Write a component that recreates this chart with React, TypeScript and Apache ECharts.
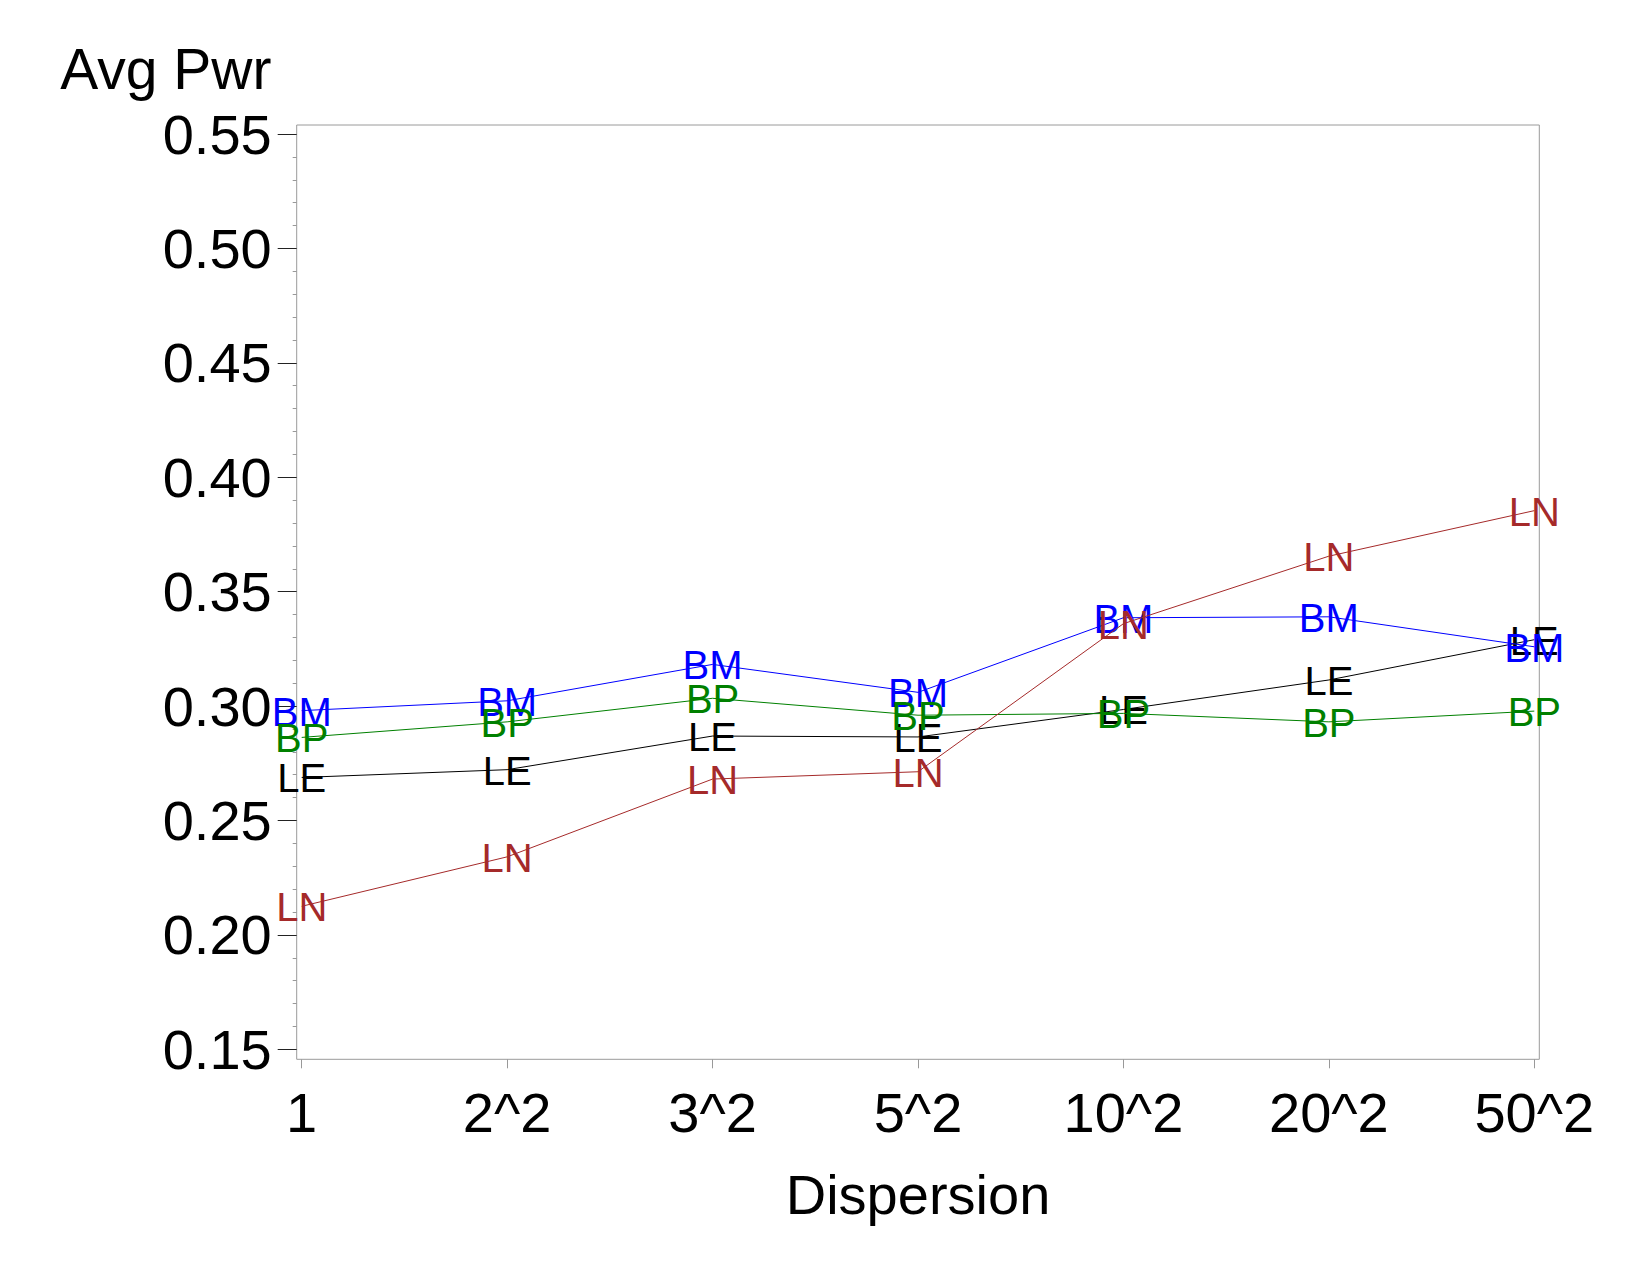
import { useEffect, useRef } from "react";
import * as echarts from "echarts";

// Dispersion levels along the horizontal axis
const dispersions = ["1", "2^2", "3^2", "5^2", "10^2", "20^2", "50^2"];

// Average power for each method at each dispersion level
const lePower = [0.2688, 0.2722, 0.2869, 0.2865, 0.2985, 0.3114, 0.329];
const bmPower = [0.298, 0.3023, 0.3182, 0.306, 0.3386, 0.339, 0.3259];
const bpPower = [0.2863, 0.2931, 0.3034, 0.296, 0.2968, 0.2931, 0.2978];
const lnPower = [0.2125, 0.2341, 0.2681, 0.2713, 0.336, 0.3655, 0.3854];

const methodNames = ["LE", "BM", "BP", "LN"];
const methodColors = ["#000000", "#0000ff", "#008000", "#a52a2a"];
const methodValues = [lePower, bmPower, bpPower, lnPower];

const FONT = "'Liberation Sans', Arial, Helvetica, sans-serif";

export default function App() {
  const ref = useRef<HTMLDivElement>(null);

  useEffect(() => {
    document.body.style.margin = "0";
    const chart = echarts.init(ref.current!, undefined, { renderer: "svg" });

    // Each method is a thin line whose points are marked by the method's name
    const series = methodNames.map((name, i) => ({
      name,
      type: "line",
      data: methodValues[i],
      symbol: "circle",
      symbolSize: 1,
      itemStyle: { color: "transparent" },
      lineStyle: { color: methodColors[i], width: 1 },
      label: {
        show: true,
        position: "inside",
        formatter: name,
        color: methodColors[i],
        fontSize: 40,
        fontFamily: FONT,
        offset: [0, 1],
      },
      emphasis: { disabled: true },
      z: 3 + i,
    }));

    chart.setOption({
      animation: false,
      backgroundColor: "#ffffff",
      textStyle: { fontFamily: FONT },
      grid: { left: 301.7, right: 115.7, top: 134, bottom: 225.7, containLabel: false },
      xAxis: {
        type: "category",
        data: dispersions,
        boundaryGap: false,
        offset: 10,
        axisLine: { show: false },
        axisTick: { show: true, length: 9, alignWithLabel: true, lineStyle: { color: "#999999", width: 1 } },
        axisLabel: { fontSize: 56, fontFamily: FONT, color: "#000000", margin: 25 },
        splitLine: { show: false },
        name: "Dispersion",
        nameLocation: "middle",
        nameGap: 107,
        nameTextStyle: { fontSize: 56, fontFamily: FONT, color: "#000000" },
      },
      yAxis: {
        type: "value",
        min: 0.15,
        max: 0.55,
        interval: 0.05,
        offset: 5,
        axisLine: { show: false },
        axisTick: { show: true, length: 19, lineStyle: { color: "#222222", width: 1 } },
        minorTick: { show: true, splitNumber: 5, length: 4, lineStyle: { color: "#999999", width: 1 } },
        minorSplitLine: { show: false },
        splitLine: { show: false },
        axisLabel: {
          fontSize: 56,
          fontFamily: FONT,
          color: "#000000",
          margin: 25,
          formatter: (v: number) => v.toFixed(2),
        },
      },
      graphic: [
        {
          type: "rect",
          z: 0,
          silent: true,
          shape: { x: 296.7, y: 125, width: 1242.6, height: 934.3 },
          style: { fill: "none", stroke: "#9a9a9a", lineWidth: 1 },
        },
        {
          type: "text",
          x: 271.5,
          y: 69,
          silent: true,
          style: {
            text: "Avg Pwr",
            fontSize: 57,
            fontFamily: FONT,
            fill: "#000000",
            align: "right",
            verticalAlign: "middle",
          },
        },
      ],
      series,
    });

    return () => chart.dispose();
  }, []);

  return <div ref={ref} style={{ width: 1650, height: 1275 }} />;
}
